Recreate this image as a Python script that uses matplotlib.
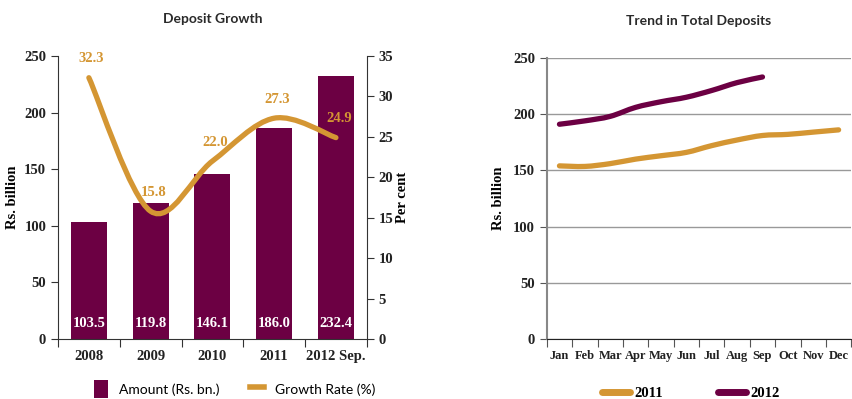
import matplotlib
matplotlib.use("Agg")
import matplotlib.pyplot as plt
import numpy as np
from matplotlib.path import Path
from matplotlib.patches import PathPatch
from matplotlib.lines import Line2D
from matplotlib.patches import Patch

# Datos
anios = ['2008', '2009', '2010', '2011', '2012 Sep.']
monto = [103.5, 119.8, 146.1, 186.0, 232.4]
crecimiento = [32.3, 15.8, 22.0, 27.3, 24.9]

meses = ['Jan', 'Feb', 'Mar', 'Apr', 'May', 'Jun', 'Jul', 'Aug', 'Sep', 'Oct', 'Nov', 'Dec']
dep_2011 = [154, 153.5, 156, 160, 163, 166, 172, 177, 181, 182, 184, 186]
dep_2012 = [191, 194, 198, 206, 211, 215, 221, 228, 233]

granate = '#6C0043'
naranja = '#D49633'
fuente = ['Liberation Serif', 'DejaVu Serif']
fuente_titulo = ['Lato', 'DejaVu Sans']


def curva_suave(x, y):
    # curva tipo Catmull-Rom convertida a Bezier cúbicas
    x = np.asarray(x, float)
    y = np.asarray(y, float)
    p = np.column_stack([x, y])
    n = len(p)
    verts = [p[0]]
    codes = [Path.MOVETO]
    for i in range(n - 1):
        p0 = p[i - 1] if i > 0 else p[i]
        p1 = p[i]
        p2 = p[i + 1]
        p3 = p[i + 2] if i + 2 < n else p[i + 1]
        c1 = p1 + (p2 - p0) / 6
        c2 = p2 - (p3 - p1) / 6
        verts += [c1, c2, p2]
        codes += [Path.CURVE4] * 3
    return Path(verts, codes)


def estilo_ticks(etiquetas, tam=10.5):
    for lab in etiquetas:
        lab.set_family(fuente)
        lab.set_fontweight('bold')
        lab.set_fontsize(tam)
        lab.set_color('#222222')


fig = plt.figure(figsize=(8.53, 3.99), dpi=100)

# ---- Gráfico izquierdo ----
ax = fig.add_axes([0.068, 0.150, 0.362, 0.710])
xs = np.arange(len(anios))
ax.bar(xs, monto, width=0.58, color=granate, zorder=2)
for xi, v in zip(xs, monto):
    ax.text(xi, 14, f'{v:.1f}', color='white', ha='center', va='center',
            fontsize=10.5, fontweight='bold', family=fuente, zorder=3)
ax.set_xlim(-0.5, len(anios) - 0.5)
ax.set_ylim(0, 250)
ax.set_yticks([0, 50, 100, 150, 200, 250])
ax.set_xticks(np.arange(-0.5, len(anios), 1.0))
ax.set_xticklabels([])
ax.set_xticks(xs, minor=True)
ax.set_xticklabels(anios, minor=True)
ax.tick_params(axis='x', which='minor', length=0, pad=8)
ax.tick_params(axis='x', which='major', length=6, direction='out', color='#333333')
ax.tick_params(axis='y', length=5, direction='out', color='#333333')
estilo_ticks(ax.get_xticklabels(minor=True) + ax.get_yticklabels())
ax.spines['top'].set_visible(False)
ax.spines['right'].set_visible(False)
ax.spines['left'].set_color('#333333')
ax.spines['bottom'].set_color('#333333')
ax.set_ylabel('Rs. billion', family=fuente, fontweight='bold', fontsize=10.5, labelpad=4)
ax.set_title('Deposit Growth', family=fuente_titulo, fontsize=10, fontweight='bold',
             color='#2a2a2a', pad=24)

ax2 = ax.twinx()
ax2.set_ylim(0, 35)
ax2.set_yticks([0, 5, 10, 15, 20, 25, 30, 35])
ax2.tick_params(axis='y', length=5, direction='out', color='#333333')
estilo_ticks(ax2.get_yticklabels())
for s in ['top', 'left', 'bottom']:
    ax2.spines[s].set_visible(False)
ax2.spines['right'].set_color('#333333')
ax2.set_ylabel('Per cent', family=fuente, fontweight='bold', fontsize=10.5, labelpad=2)
ax2.add_patch(PathPatch(curva_suave(xs, crecimiento), fill=False, edgecolor=naranja,
                        lw=3.8, capstyle='round', zorder=4))
for xi, v in zip(xs, crecimiento):
    ax2.annotate(f'{v:.1f}', (xi, v), xytext=(2, 9), textcoords='offset points',
                 ha='center', va='bottom', color=naranja, fontsize=10.5,
                 fontweight='bold', family=fuente)

fig.legend(handles=[Patch(facecolor=granate, label='Amount (Rs. bn.)'),
                    Line2D([0], [0], color=naranja, lw=4, label='Growth Rate (%)')],
           loc='center', bbox_to_anchor=(0.275, 0.025), ncol=2, frameon=False,
           prop={'family': fuente_titulo, 'size': 10}, handlelength=1.0,
           handleheight=1.6, handletextpad=0.8, columnspacing=2.2)

# ---- Gráfico derecho ----
bx = fig.add_axes([0.641, 0.150, 0.357, 0.705])
mx = np.arange(len(meses))
bx.add_patch(PathPatch(curva_suave(mx, dep_2011), fill=False, edgecolor=naranja,
                       lw=3.8, capstyle='round', zorder=3))
bx.add_patch(PathPatch(curva_suave(mx[:len(dep_2012)], dep_2012), fill=False,
                       edgecolor=granate, lw=3.8, capstyle='round', zorder=3))
bx.set_xlim(-0.5, len(meses) - 0.5)
bx.set_ylim(0, 250)
bx.set_yticks([0, 50, 100, 150, 200, 250])
bx.grid(axis='y', color='#999999', lw=1)
bx.set_axisbelow(True)
bx.set_xticks(np.arange(-0.5, len(meses), 1.0))
bx.set_xticklabels([])
bx.set_xticks(mx, minor=True)
bx.set_xticklabels(meses, minor=True)
bx.tick_params(axis='x', which='minor', length=0, pad=8)
bx.tick_params(axis='x', which='major', length=6, direction='out', color='#555555')
bx.tick_params(axis='y', length=5, direction='out', color='#555555')
estilo_ticks(bx.get_yticklabels())
estilo_ticks(bx.get_xticklabels(minor=True), tam=9)
bx.spines['top'].set_visible(False)
bx.spines['right'].set_visible(False)
bx.spines['left'].set_color('#888888')
bx.spines['left'].set_linewidth(1.5)
bx.spines['bottom'].set_color('#222222')
bx.set_ylabel('Rs. billion', family=fuente, fontweight='bold', fontsize=10.5, labelpad=6)
bx.set_title('Trend in Total Deposits', family=fuente_titulo, fontsize=10, fontweight='bold',
             color='#2a2a2a', pad=24)

fig.legend(handles=[Line2D([0], [0], color=naranja, lw=5, solid_capstyle='round', label='2011'),
                    Line2D([0], [0], color=granate, lw=5, solid_capstyle='round', label='2012')],
           loc='center', bbox_to_anchor=(0.81, 0.015), ncol=2, frameon=False,
           prop={'family': fuente, 'size': 10.5, 'weight': 'bold'}, handlelength=1.9,
           handletextpad=0.3, columnspacing=3.8)

fig.savefig('out.png', dpi=100)
